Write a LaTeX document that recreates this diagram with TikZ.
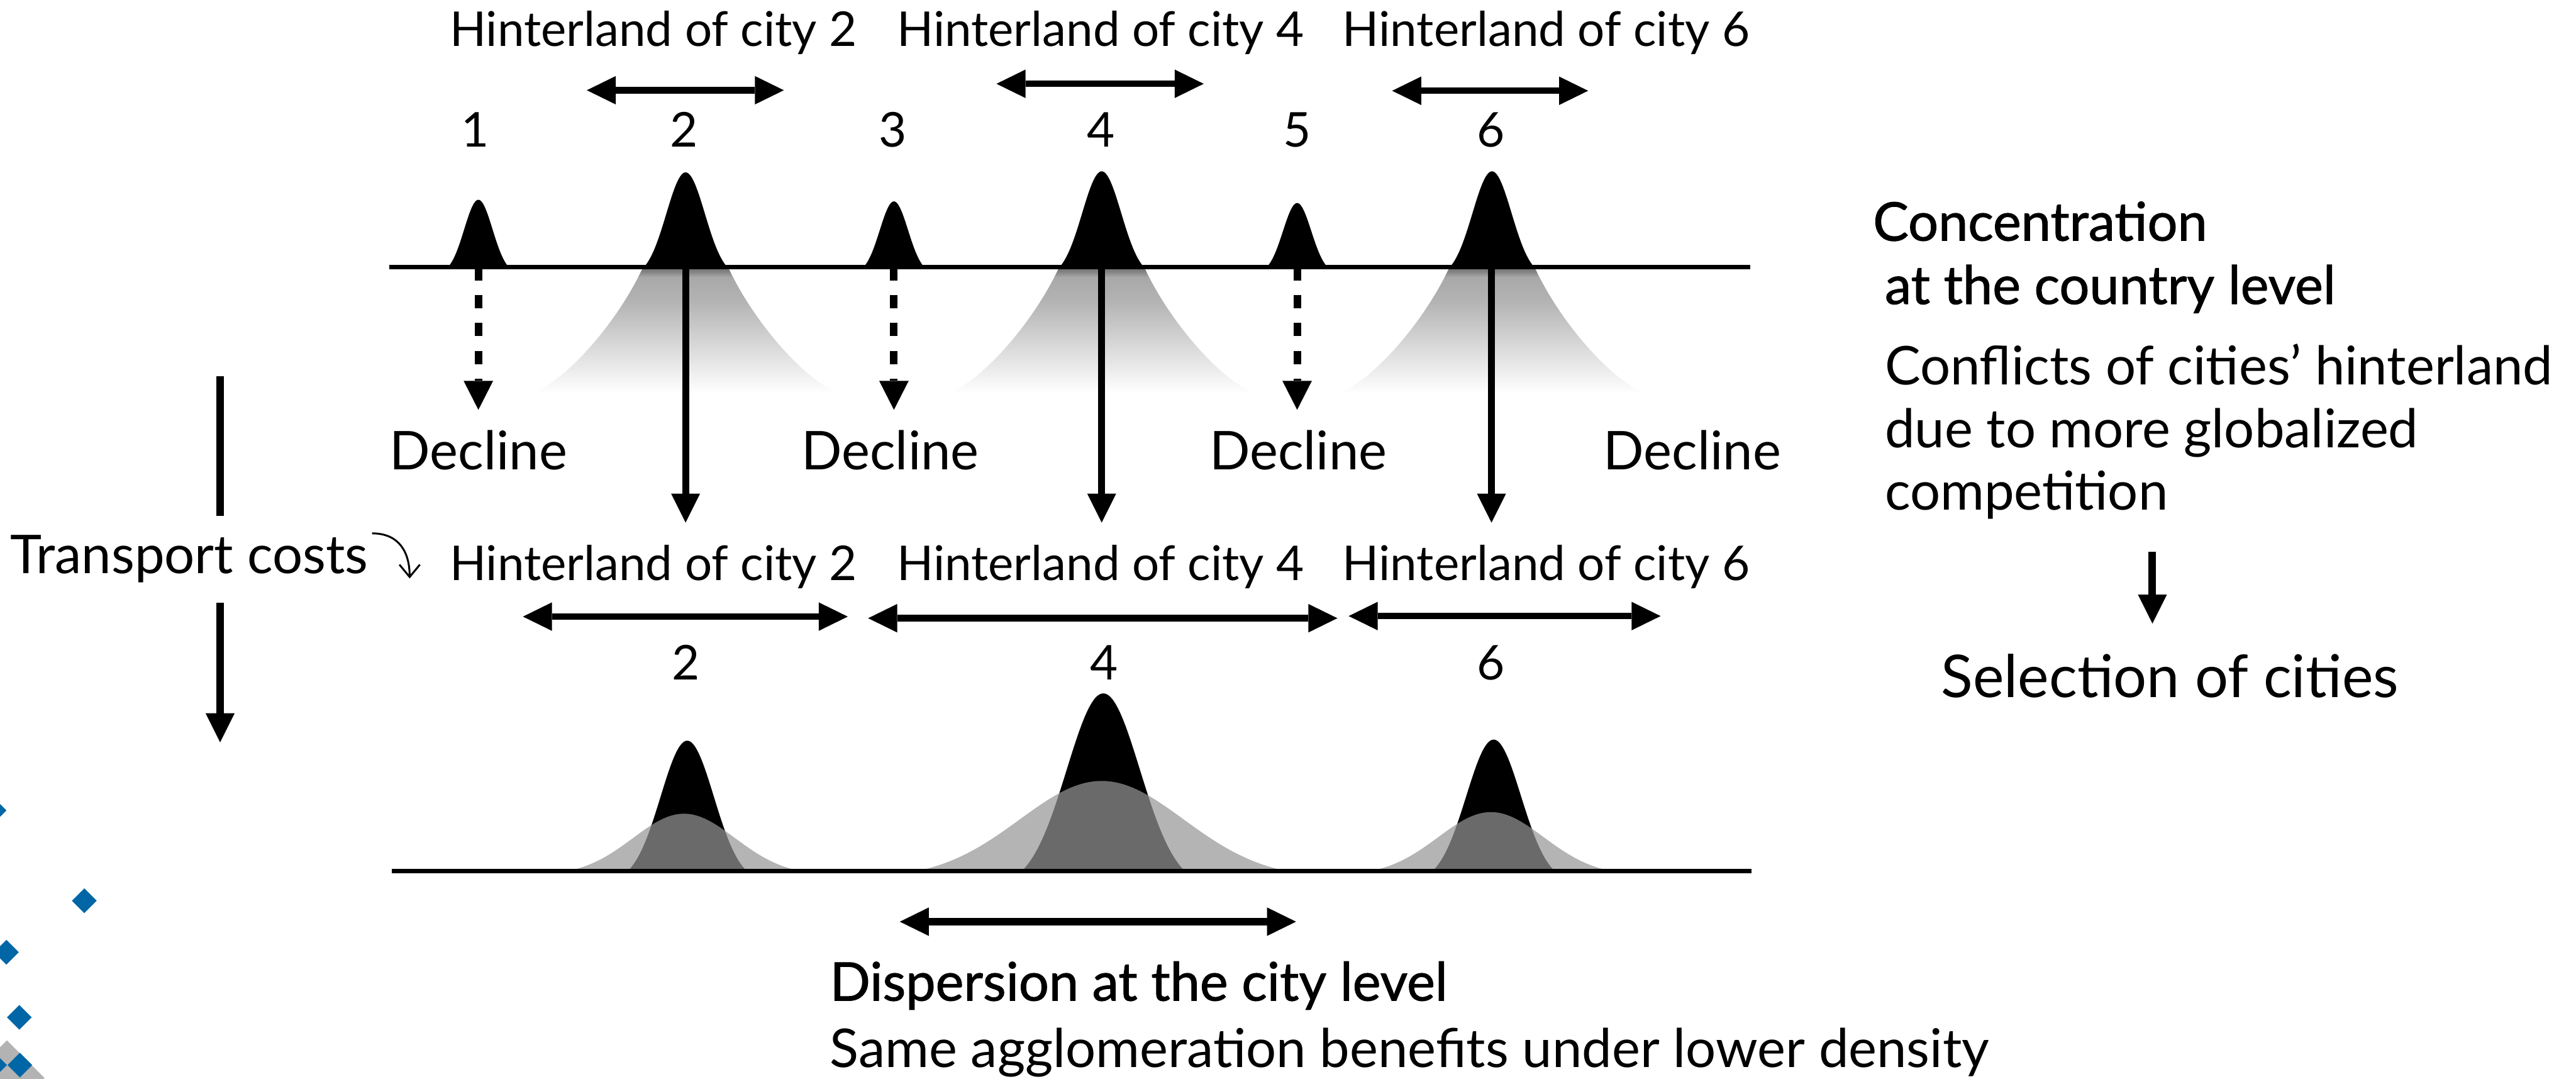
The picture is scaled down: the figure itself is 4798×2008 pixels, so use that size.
\documentclass[tikz,border=0pt]{standalone}
\usepackage{fontspec}
\setmainfont{Lato}
\newfontfamily\medfont{Lato}[FakeBold=1.2]
\usetikzlibrary{arrows.meta}
\definecolor{logoblue}{RGB}{0,102,166}
\definecolor{logogray}{RGB}{179,179,179}
\definecolor{bellgray}{RGB}{150,150,150}
\pgfdeclareverticalshading{tailshade}{100bp}{color(0bp)=(white); color(25bp)=(white); color(62bp)=(black!30); color(71bp)=(black!34); color(73bp)=(black!48); color(75bp)=(black!58); color(100bp)=(black!58)}
\newcommand{\bellpath}[4]{plot[domain=-1:1,samples=81,smooth,variable=\u] ({#1+#3*\u},{#2-#4*(exp(-2.42*\u*\u)-0.0889)/0.9111})}
\newcommand{\tailshape}[1]{(#1-79,497) .. controls (#1-125,597) and (#1-220,707) .. (#1-285,732) -- (#1+285,732) .. controls (#1+220,707) and (#1+125,597) .. (#1+79,497) -- cycle}
\tikzset{
  lbl/.style={inner sep=0pt, font=\fontsize{25.4}{30}\selectfont},
  txt/.style={inner sep=0pt, font=\fontsize{28.3}{33}\selectfont},
  medtxt/.style={inner sep=0pt, font=\medfont\fontsize{28.2}{33}\selectfont},
  bigtxt/.style={inner sep=0pt, font=\fontsize{31.2}{36}\selectfont},
  axisline/.style={line width=0.08cm},
  downarrow/.style={line width=0.13cm, -{Triangle[length=0.54cm,width=0.54cm,line width=0pt]}},
  dasharrow/.style={line width=0.14cm, dash pattern=on 0.25cm off 0.27cm, -{Triangle[length=0.54cm,width=0.55cm,line width=0pt]}},
  dblarrow/.style={line width=0.12cm, {Triangle[length=0.54cm,width=0.53cm,line width=0pt]}-{Triangle[length=0.54cm,width=0.53cm,line width=0pt]}},
  curlarrow/.style={line width=0.035cm, -{Straight Barb[length=0.23cm,width=0.38cm]}},
  logodiamond/.style={fill=logoblue},
}
\begin{document}
\begin{tikzpicture}[x=0.01cm,y=-0.01cm]
\useasboundingbox (0,0) rectangle (4798,2008);

% ---------- top section ----------
\node[lbl, anchor=base] (h2a) at (1217,86) {Hinterland of city 2};
\node[lbl, anchor=base] (h4a) at (2050,86) {Hinterland of city 4};
\node[lbl, anchor=base] (h6a) at (2880,86) {Hinterland of city 6};

\coordinate (a2l) at (1093,168); \coordinate (a2r) at (1460,168);
\coordinate (a4l) at (1856,156); \coordinate (a4r) at (2242,156);
\coordinate (a6l) at (2593,169); \coordinate (a6r) at (2958,169);
\draw[dblarrow] (a2l) -- (a2r);
\draw[dblarrow] (a4l) -- (a4r);
\draw[dblarrow] (a6l) -- (a6r);

\node[lbl, anchor=base] (n1) at (885,273) {1};
\node[lbl, anchor=base] (n2) at (1274,273) {2};
\node[lbl, anchor=base] (n3) at (1663,273) {3};
\node[lbl, anchor=base] (n4) at (2051,273) {4};
\node[lbl, anchor=base] (n5) at (2416,273) {5};
\node[lbl, anchor=base] (n6) at (2777,273) {6};

% shaded tails under the large cities
\shade[shading=tailshade] \tailshape{1277};
\shade[shading=tailshade] \tailshape{2052};
\shade[shading=tailshade] \tailshape{2779};

\coordinate (topL) at (725,497); \coordinate (topR) at (3260,497);
\draw[axisline] (topL) -- (topR);

% peaks
\fill \bellpath{891}{499}{58}{127} -- cycle;
\fill \bellpath{1665}{499}{58}{124} -- cycle;
\fill \bellpath{2416}{499}{58}{121} -- cycle;
\fill \bellpath{1277}{499}{79}{178} -- cycle;
\fill \bellpath{2052}{499}{80}{180} -- cycle;
\fill \bellpath{2779}{499}{80}{180} -- cycle;

% arrows down
\coordinate (d1s) at (891,497); \coordinate (d1e) at (891,763);
\coordinate (d3s) at (1665,497); \coordinate (d3e) at (1665,763);
\coordinate (d5s) at (2416,497); \coordinate (d5e) at (2416,763);
\draw[dasharrow] (d1s) -- (d1e);
\draw[dasharrow] (d3s) -- (d3e);
\draw[dasharrow] (d5s) -- (d5e);

\coordinate (s2s) at (1277,497); \coordinate (s2e) at (1277,973);
\coordinate (s4s) at (2052,497); \coordinate (s4e) at (2052,973);
\coordinate (s6s) at (2778,497); \coordinate (s6e) at (2778,973);
\draw[downarrow] (s2s) -- (s2e);
\draw[downarrow] (s4s) -- (s4e);
\draw[downarrow] (s6s) -- (s6e);

\node[txt, anchor=base] (dec1) at (891,875) {Decline};
\node[txt, anchor=base] (dec3) at (1658,875) {Decline};
\node[txt, anchor=base] (dec5) at (2418,875) {Decline};
\node[txt, anchor=base] (dec7) at (3152,875) {Decline};

% ---------- transport costs ----------
\node[txt, anchor=base east] (tc) at (686,1068) {Transport costs};
\coordinate (tcTop) at (410,700); \coordinate (tcTopEnd) at (410,960);
\coordinate (tcBot) at (410,1122); \coordinate (tcBotEnd) at (410,1382);
\draw[line width=0.13cm] (tcTop) -- (tcTopEnd);
\draw[downarrow] (tcBot) -- (tcBotEnd);
\coordinate (cs) at (693,993); \coordinate (ce) at (763,1077);
\draw[curlarrow] (cs) .. controls (745,993) and (763,1030) .. (ce);

% ---------- middle section ----------
\node[lbl, anchor=base] (h2b) at (1217,1080) {Hinterland of city 2};
\node[lbl, anchor=base] (h4b) at (2050,1080) {Hinterland of city 4};
\node[lbl, anchor=base] (h6b) at (2880,1080) {Hinterland of city 6};

\coordinate (b2l) at (974,1148); \coordinate (b2r) at (1579,1148);
\coordinate (b4l) at (1617,1151); \coordinate (b4r) at (2491,1151);
\coordinate (b6l) at (2512,1147); \coordinate (b6r) at (3093,1147);
\draw[dblarrow] (b2l) -- (b2r);
\draw[dblarrow] (b4l) -- (b4r);
\draw[dblarrow] (b6l) -- (b6r);

\node[lbl, anchor=base] (m2) at (1277,1266) {2};
\node[lbl, anchor=base] (m4) at (2056,1266) {4};
\node[lbl, anchor=base] (m6) at (2777,1266) {6};

% bottom distributions
\fill \bellpath{1280}{1620}{109}{241} -- cycle;
\fill \bellpath{2055}{1620}{150}{329} -- cycle;
\fill \bellpath{2782}{1620}{112}{243} -- cycle;
\fill[bellgray, fill opacity=0.71] \bellpath{1274}{1620}{209}{105} -- cycle;
\fill[bellgray, fill opacity=0.71] \bellpath{2052}{1620}{336}{166} -- cycle;
\fill[bellgray, fill opacity=0.71] \bellpath{2777}{1620}{216}{108} -- cycle;

\coordinate (botL) at (730,1622); \coordinate (botR) at (3262,1622);
\draw[axisline] (botL) -- (botR);

\coordinate (dispL) at (1676,1716); \coordinate (dispR) at (2414,1716);
\draw[dblarrow, line width=0.14cm] (dispL) -- (dispR);

\node[medtxt, anchor=base west] (disp) at (1545,1863) {Dispersion at the city level};
\node[txt, anchor=base west] (same) at (1545,1987) {Same agglomeration benefits under lower density};

% ---------- right text ----------
\node[medtxt, anchor=base west] (conc1) at (3488,448) {Concentration};
\node[medtxt, anchor=base west] (conc2) at (3510,566) {at the country level};
\node[txt, anchor=base west] (conf1) at (3510,716) {Conflicts of cities’ hinterland};
\node[txt, anchor=base west] (conf2) at (3510,834) {due to more globalized};
\node[txt, anchor=base west] (conf3) at (3510,949) {competition};
\coordinate (selTop) at (4009,1027); \coordinate (selEnd) at (4009,1161);
\draw[downarrow, line width=0.14cm] (selTop) -- (selEnd);
\node[bigtxt, anchor=base west] (sel) at (3615,1298) {Selection of cities};

% ---------- logo fragment ----------
\begin{scope}
\clip (0,0) rectangle (4798,2008);
\fill[logogray] (13,1937) -- (83,2007) -- (13,2077) -- (-57,2007) -- cycle;
\foreach \cx/\cy in {-11/1509, 157/1677, 12/1773, 36/1894, 37/1983, -10/1983}
  \fill[logodiamond] (\cx,\cy-23) -- (\cx+23,\cy) -- (\cx,\cy+23) -- (\cx-23,\cy) -- cycle;
\end{scope}
\end{tikzpicture}
\end{document}
